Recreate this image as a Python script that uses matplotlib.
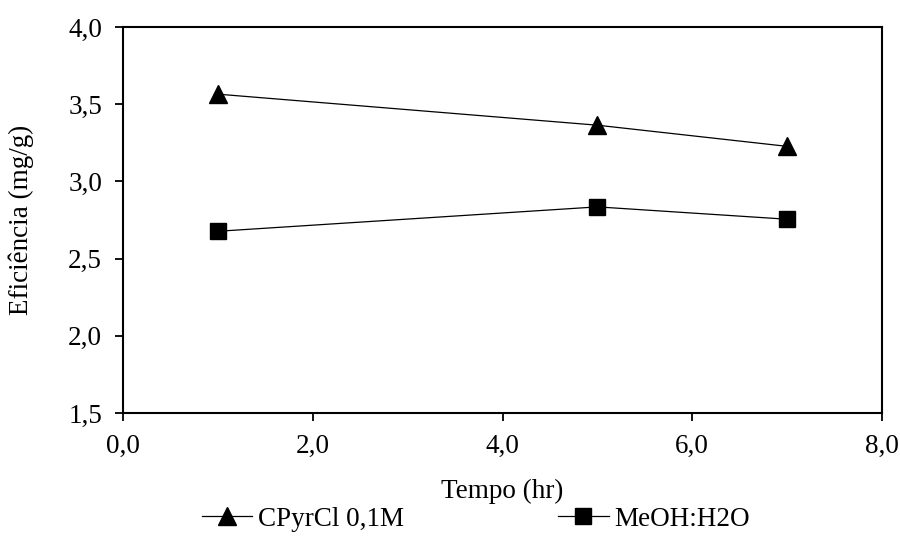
import matplotlib
matplotlib.use("Agg")
import matplotlib.pyplot as plt
from matplotlib.ticker import FuncFormatter

plt.rcParams['font.family'] = ['Liberation Serif', 'DejaVu Serif']

tempo = [1, 5, 7]
cpyrcl = [3.565, 3.364, 3.227]
meoh = [2.677, 2.835, 2.755]
labels = ["CPyrCl 0,1M", "MeOH:H2O"]

FS = 19.5
fig = plt.figure(figsize=(9, 5.4), dpi=100)
ax = fig.add_axes([123/900, 1-413/540, (882-123)/900, (413-27)/540])

ax.plot(tempo, cpyrcl, color='black', lw=0.9, marker='^', ms=13, label=labels[0])
ax.plot(tempo, meoh, color='black', lw=0.9, marker='s', ms=11, label=labels[1])

ax.set_xlim(0, 8)
ax.set_ylim(1.5, 4.0)
ax.set_xticks([0, 2, 4, 6, 8])
ax.set_yticks([1.5, 2.0, 2.5, 3.0, 3.5, 4.0])
fmt = FuncFormatter(lambda v, p: f"{v:.1f}".replace('.', ','))
ax.xaxis.set_major_formatter(fmt)
ax.yaxis.set_major_formatter(fmt)
ax.tick_params(direction='out', length=6, width=1.3, labelsize=FS)
ax.tick_params(axis='y', pad=9)
ax.tick_params(axis='x', pad=9)
for s in ax.spines.values():
    s.set_linewidth(1.5)

ax.set_xlabel("Tempo (hr)", fontsize=FS, va='center')
ax.xaxis.set_label_coords(0.5, (413-491)/386)
ax.set_ylabel("Eficiência (mg/g)", fontsize=FS, va='center')
ax.yaxis.set_label_coords((21-123)/759, 0.5)

fig.legend(loc='center', bbox_to_anchor=(476/900, 1-519/540), ncol=2, frameon=False,
           fontsize=FS, handlelength=1.85, handletextpad=0.22, columnspacing=5.7,
           borderpad=0, borderaxespad=0)

fig.savefig("out.png", dpi=100)
